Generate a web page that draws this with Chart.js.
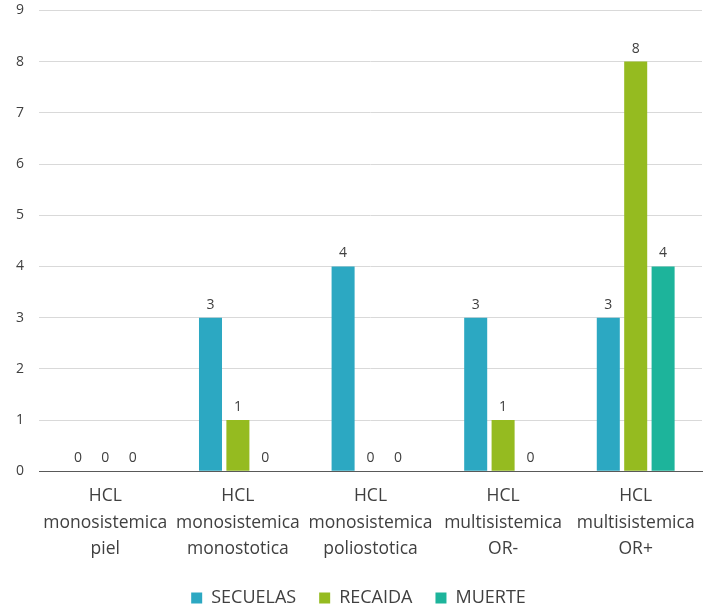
<!DOCTYPE html>
<html>
<head>
<meta charset="utf-8">
<script src="https://cdn.jsdelivr.net/npm/chart.js@4.4.1/dist/chart.umd.min.js"></script>
<style>
  html, body { margin: 0; padding: 0; background: #fff; }
  #wrap { width: 714px; height: 609px; overflow: hidden; }
  #chart { display: block; margin-top: -13px; }
</style>
</head>
<body>
<div id="wrap"><canvas id="chart" width="714" height="630"></canvas></div>
<script>
// Categories (multi-line labels)
const categories = [
    ["HCL", "monosistemica", "piel"],
    ["HCL", "monosistemica", "monostotica"],
    ["HCL", "monosistemica", "poliostotica"],
    ["HCL", "multisistemica", "OR-"],
    ["HCL", "multisistemica", "OR+"]
];

// Series values
const secuelas = [0, 3, 4, 3, 3];
const recaida = [0, 1, 0, 1, 8];
const muerte = [0, 0, 0, 0, 4];

const yTicks = [0, 1, 2, 3, 4, 5, 6, 7, 8, 9];

const fontFamily = "'Open Sans', Lato, sans-serif";

// Simple value labels drawn above each bar
const valueLabels = {
    id: 'valueLabels',
    afterDatasetsDraw(chart) {
        const ctx = chart.ctx;
        ctx.save();
        ctx.font = "14px " + fontFamily;
        ctx.fillStyle = '#404040';
        ctx.textAlign = 'center';
        ctx.textBaseline = 'bottom';
        chart.data.datasets.forEach((ds, i) => {
            const meta = chart.getDatasetMeta(i);
            meta.data.forEach((bar, j) => {
                ctx.fillText(String(ds.data[j]), bar.x, bar.y - 6);
            });
        });
        ctx.restore();
    }
};

// The wide category labels make Chart.js push the plot to the right;
// the original lets them sit inside their own category slot.
const noLabelPadding = {
    id: 'noLabelPadding',
    beforeLayout(chart) {
        const x = chart.scales.x;
        if (x) {
            x.getPadding = () => ({ left: 0, top: 0, right: 0, bottom: 0 });
        }
    }
};

new Chart(document.getElementById('chart'), {
    type: 'bar',
    data: {
        labels: categories,
        datasets: [
            { label: 'SECUELAS', data: secuelas, backgroundColor: '#2CA8C2' },
            { label: 'RECAIDA', data: recaida, backgroundColor: '#95BB20' },
            { label: 'MUERTE', data: muerte, backgroundColor: '#1DB49B' }
        ]
    },
    options: {
        responsive: false,
        animation: false,
        layout: { padding: { top: 0, right: 12, left: 15, bottom: 0 } },
        datasets: {
            bar: { categoryPercentage: 0.62, barPercentage: 0.84 }
        },
        plugins: {
            legend: {
                position: 'bottom',
                labels: {
                    boxWidth: 11,
                    boxHeight: 11,
                    color: '#404040',
                    padding: 23,
                    font: { family: fontFamily, size: 18 }
                }
            },
            tooltip: { enabled: false }
        },
        scales: {
            x: {
                grid: { display: false },
                border: { color: '#595959' },
                afterFit(axis) {
                    axis.paddingLeft = 0;
                    axis.paddingRight = 0;
                },
                ticks: {
                    color: '#404040',
                    padding: 4,
                    maxRotation: 0,
                    font: { family: fontFamily, size: 17.5, lineHeight: 1.5 }
                }
            },
            y: {
                min: 0,
                max: 9,
                afterBuildTicks(axis) {
                    axis.ticks = yTicks.map(v => ({ value: v }));
                },
                // fixed width so the plot starts where the original's does
                afterFit(axis) {
                    axis.width = 24;
                },
                grid: { color: '#d9d9d9', drawTicks: false },
                border: { display: false },
                ticks: {
                    color: '#404040',
                    padding: 15,
                    font: { family: fontFamily, size: 14 }
                }
            }
        }
    },
    plugins: [valueLabels, noLabelPadding]
});
</script>
</body>
</html>
